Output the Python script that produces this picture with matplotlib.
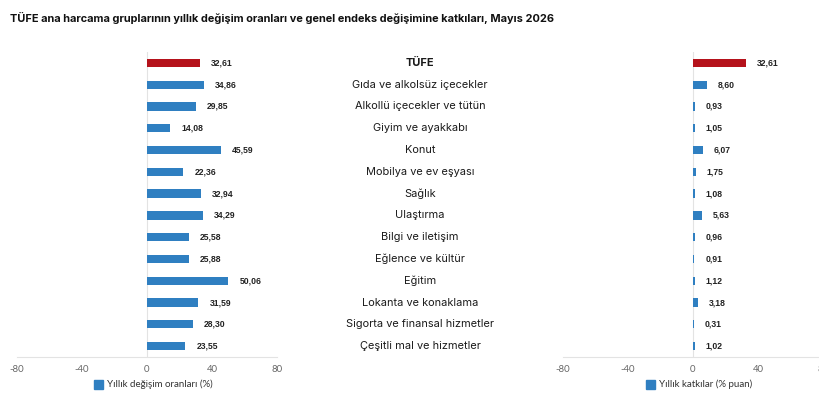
import matplotlib.pyplot as plt
from matplotlib.transforms import blended_transform_factory
import numpy as np

categories = ["TÜFE", "Gıda ve alkolsüz içecekler", "Alkollü içecekler ve tütün",
              "Giyim ve ayakkabı", "Konut", "Mobilya ve ev eşyası", "Sağlık",
              "Ulaştırma", "Bilgi ve iletişim", "Eğlence ve kültür", "Eğitim",
              "Lokanta ve konaklama", "Sigorta ve finansal hizmetler",
              "Çeşitli mal ve hizmetler"]
annual_change = [32.61, 34.86, 29.85, 14.08, 45.59, 22.36, 32.94, 34.29,
                 25.58, 25.88, 50.06, 31.59, 28.30, 23.55]
contribution = [32.61, 8.60, 0.93, 1.05, 6.07, 1.75, 1.08, 5.63,
                0.96, 0.91, 1.12, 3.18, 0.31, 1.02]
ticks = [-80, -40, 0, 40, 80]
legend_left = "Yıllık değişim oranları (%)"
legend_right = "Yıllık katkılar (% puan)"
title = "TÜFE ana harcama gruplarının yıllık değişim oranları ve genel endeks değişimine katkıları, Mayıs 2026"

blue = "#2f7fc1"
red = "#b5121b"
W, H = 820, 418

fig = plt.figure(figsize=(8.2, 4.18), dpi=100)
fig.patch.set_facecolor("white")

y = np.arange(len(categories))
colors = [red] + [blue] * (len(categories) - 1)


def panel(x0, vals, legend_text, leg_x):
    ax = fig.add_axes([x0 / W, 61 / H, 260 / W, 305 / H])
    ax.barh(y, vals, height=0.38, color=colors)
    ax.set_xlim(-80, 80)
    ax.set_ylim(13.5, -0.5)
    for s in ax.spines.values():
        s.set_visible(False)
    ax.axvline(0, color="#e3e3e3", lw=0.8, zorder=0)
    ax.axhline(13.5, color="#e3e3e3", lw=0.8, clip_on=False)
    ax.set_yticks([])
    ax.set_xticks(ticks)
    ax.set_xticklabels([str(t) for t in ticks], fontsize=6.8, color="#666666",
                       family="Lato")
    ax.tick_params(axis="x", length=0, pad=6)
    for yi, v in zip(y, vals):
        ax.annotate("{:.2f}".format(v).replace(".", ","), (v, yi),
                    xytext=(8, 0), textcoords="offset points", va="center",
                    ha="left", fontsize=6.2, fontweight="bold",
                    family="Liberation Sans", color="#222222")
    fig.patches.append(plt.Rectangle((leg_x / W, 1 - 389 / H), 9 / W, 9 / H,
                                     transform=fig.transFigure, color=blue,
                                     figure=fig))
    fig.text((leg_x + 13) / W, 1 - 384 / H, legend_text, fontsize=7,
             color="#333333", va="center", family="Lato")
    return ax


ax1 = panel(17, annual_change, legend_left, 94)
ax2 = panel(563, contribution, legend_right, 646)

tr = blended_transform_factory(fig.transFigure, ax1.transData)
for i, c in enumerate(categories):
    fig.text(420 / W, i, c, transform=tr, ha="center", va="center",
             fontsize=7.9, fontweight="bold" if i == 0 else "normal",
             family="Inter", color="#1a1a1a")

fig.text(10 / W, 1 - 18 / H, title, fontsize=7.9, fontweight="bold",
         family="Inter", va="center", ha="left", color="#111111")

fig.savefig("out.png", dpi=100)
